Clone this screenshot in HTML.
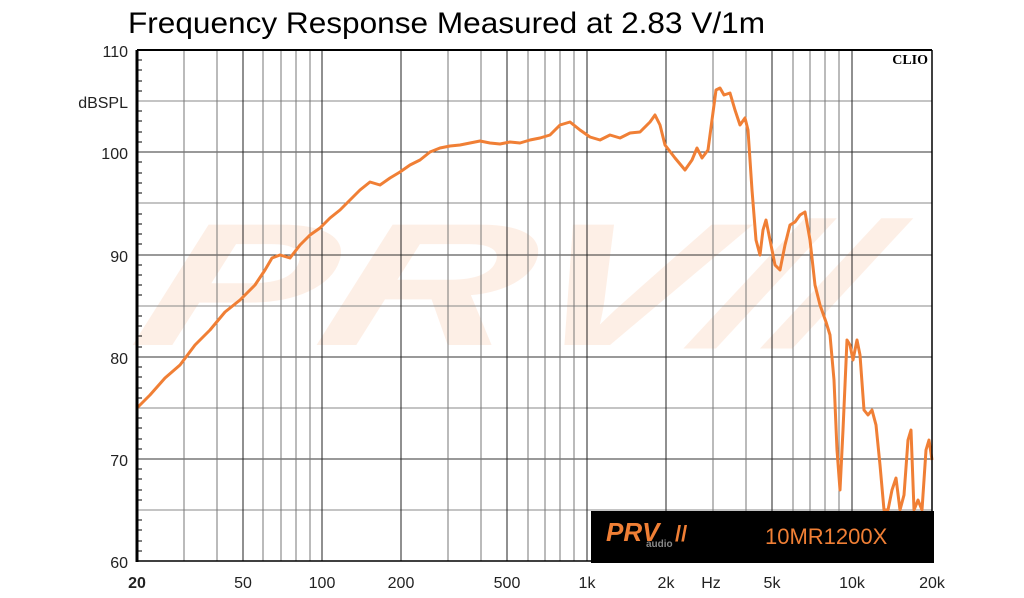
<!DOCTYPE html>
<html><head><style>body{margin:0;background:#fff}svg{display:block}</style></head><body>
<svg width="1024" height="598" xmlns="http://www.w3.org/2000/svg" font-family="Liberation Sans, sans-serif">
<rect width="1024" height="598" fill="#fff"/>
<text x="128" y="33" font-size="30" textLength="637" lengthAdjust="spacingAndGlyphs" fill="#000">Frequency Response Measured at 2.83 V/1m</text>
<g transform="skewX(-18)" opacity="0.16" fill="#f7a06a">
<text x="240" y="345" font-size="175" font-weight="bold" textLength="720" lengthAdjust="spacingAndGlyphs" font-style="italic">PRV//</text>
</g>
<g stroke-width="1">
<g stroke="#888">
<line x1="137" y1="101" x2="932" y2="101"/><line x1="137" y1="203" x2="932" y2="203"/><line x1="137" y1="306" x2="932" y2="306"/><line x1="137" y1="408" x2="932" y2="408"/><line x1="137" y1="510" x2="932" y2="510"/>
</g>
<g stroke="#333">
<line x1="137" y1="152" x2="932" y2="152"/><line x1="137" y1="255" x2="932" y2="255"/><line x1="137" y1="357" x2="932" y2="357"/><line x1="137" y1="459" x2="932" y2="459"/>
</g>
<g stroke="#777">
<line x1="184" y1="50" x2="184" y2="561"/><line x1="217" y1="50" x2="217" y2="561"/><line x1="263" y1="50" x2="263" y2="561"/><line x1="281" y1="50" x2="281" y2="561"/><line x1="296" y1="50" x2="296" y2="561"/><line x1="310" y1="50" x2="310" y2="561"/>
<line x1="448" y1="50" x2="448" y2="561"/><line x1="481" y1="50" x2="481" y2="561"/><line x1="528" y1="50" x2="528" y2="561"/><line x1="545" y1="50" x2="545" y2="561"/><line x1="560" y1="50" x2="560" y2="561"/><line x1="574" y1="50" x2="574" y2="561"/>
<line x1="713" y1="50" x2="713" y2="561"/><line x1="746" y1="50" x2="746" y2="561"/><line x1="793" y1="50" x2="793" y2="561"/><line x1="810" y1="50" x2="810" y2="561"/><line x1="825" y1="50" x2="825" y2="561"/><line x1="839" y1="50" x2="839" y2="561"/>
</g>
<g stroke="#222">
<line x1="243" y1="50" x2="243" y2="561"/><line x1="322" y1="50" x2="322" y2="561"/><line x1="401" y1="50" x2="401" y2="561"/><line x1="507" y1="50" x2="507" y2="561"/><line x1="587" y1="50" x2="587" y2="561"/><line x1="666" y1="50" x2="666" y2="561"/><line x1="772" y1="50" x2="772" y2="561"/><line x1="852" y1="50" x2="852" y2="561"/>
</g>
<path stroke="#000" d="M137 60h5M137 70h5M137 81h5M137 91h5M137 111h5M137 121h5M137 132h5M137 142h5M137 162h5M137 173h5M137 183h5M137 193h5M137 214h5M137 224h5M137 234h5M137 244h5M137 265h5M137 275h5M137 285h5M137 295h5M137 316h5M137 326h5M137 336h5M137 347h5M137 367h5M137 377h5M137 388h5M137 398h5M137 418h5M137 428h5M137 439h5M137 449h5M137 469h5M137 479h5M137 490h5M137 500h5M137 520h5M137 530h5M137 541h5M137 551h5"/>
</g>
<polyline fill="none" stroke="#f07f35" stroke-width="3" stroke-linejoin="round" points="137,408 150,395 165,378 180,365 195,345 210,330 225,312 240,300 255,285 265,270 272,258 280,255 290,258 300,245 310,235 320,228 330,218 340,210 350,200 360,190 370,182 380,185 390,178 400,172 410,165 420,160 430,152 440,148 450,146 460,145 470,143 480,141 490,143 500,144 510,142 520,143 530,140 540,138 550,135 560,125 570,122 580,130 590,137 600,140 610,135 620,138 630,133 640,132 650,122 655,115 660,125 665,145 675,158 685,170 692,160 697,148 702,158 708,150 712,120 716,90 720,88 724,95 730,93 735,110 740,125 745,118 748,130 752,190 756,240 760,255 763,230 766,220 770,240 775,265 780,270 785,245 790,225 795,222 800,215 805,212 810,240 815,285 820,305 826,322 830,335 834,380 837,450 840,490 843,430 847,340 850,345 853,360 857,340 860,355 864,410 868,415 872,410 876,425 880,465 884,510 888,510 892,490 896,478 900,510 904,495 908,440 911,430 914,510 918,500 922,510 926,450 929,440 932,460"/>
<rect x="591" y="511" width="343" height="52" fill="#000"/>
<text x="606" y="541" font-size="26" font-weight="bold" font-style="italic" fill="#f07f35">PRV</text>
<text x="675" y="541" font-size="22" font-weight="bold" fill="#f07f35">//</text>
<text x="646" y="547" font-size="10" font-weight="bold" fill="#888">audio</text>
<text x="765" y="544" font-size="22" fill="#f07f35">10MR1200X</text>
<line x1="137" y1="50" x2="932" y2="50" stroke="#000" stroke-width="2"/>
<line x1="932" y1="50" x2="932" y2="561" stroke="#000" stroke-width="1.5"/>
<line x1="137" y1="561" x2="932" y2="561" stroke="#000" stroke-width="1.5"/>
<line x1="137" y1="50" x2="137" y2="562" stroke="#000" stroke-width="3"/>
<text x="928" y="64" font-size="14" font-weight="bold" font-family="Liberation Serif, serif" text-anchor="end">CLIO</text>
<g font-size="16" text-anchor="end" fill="#222">
<text x="128" y="57">110</text><text x="128" y="108">dBSPL</text><text x="128" y="159">100</text><text x="128" y="262">90</text><text x="128" y="364">80</text><text x="128" y="466">70</text><text x="128" y="568">60</text>
</g>
<g font-size="16" text-anchor="middle" fill="#222">
<text x="137" y="588" font-weight="bold">20</text><text x="243" y="588">50</text><text x="322" y="588">100</text><text x="401" y="588">200</text><text x="507" y="588">500</text><text x="587" y="588">1k</text><text x="666" y="588">2k</text><text x="711" y="588">Hz</text><text x="772" y="588">5k</text><text x="852" y="588">10k</text><text x="932" y="588">20k</text>
</g>
</svg>
</body></html>
